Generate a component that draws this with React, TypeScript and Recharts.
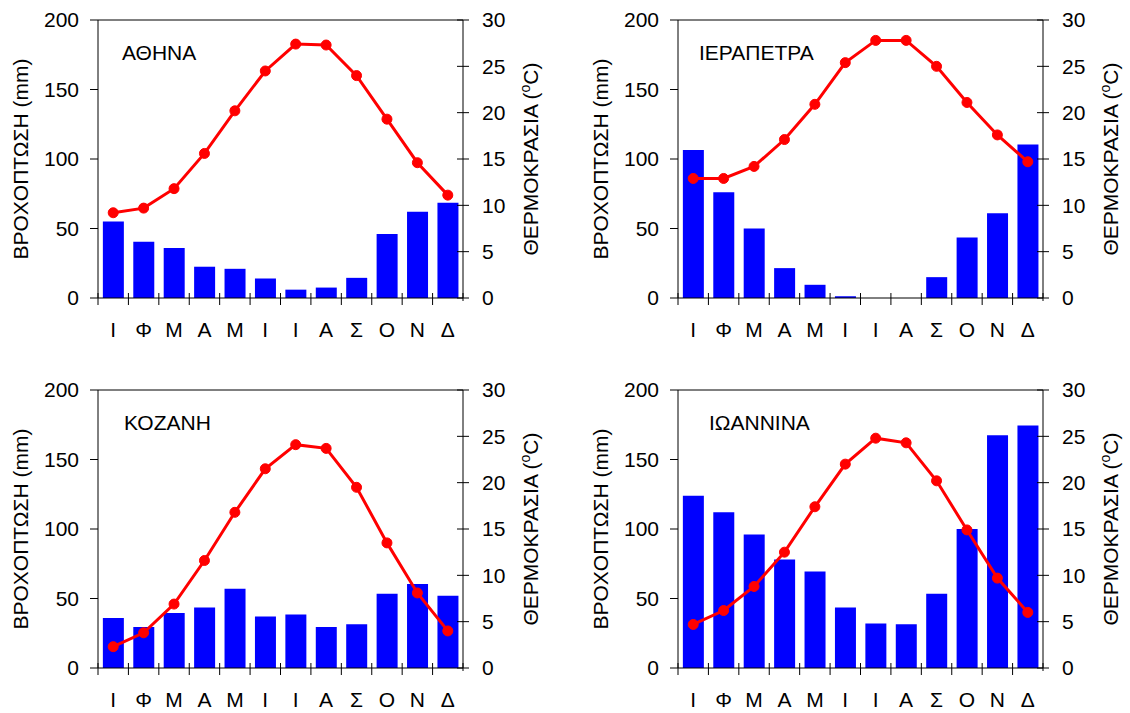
import React from 'react';
import { ComposedChart, Bar, Line, XAxis, YAxis, ReferenceLine } from 'recharts';

// Μήνες (αρχικά)
const MONTHS = ['Ι', 'Φ', 'Μ', 'Α', 'Μ', 'Ι', 'Ι', 'Α', 'Σ', 'Ο', 'Ν', 'Δ'];

const RAIN_TICKS = [0, 50, 100, 150, 200];
const TEMP_TICKS = [0, 5, 10, 15, 20, 25, 30];

// ΑΘΗΝΑ
const ATHINA_RAIN = [55, 40.5, 36, 22.5, 21, 14, 6, 7.5, 14.5, 46, 62, 68.5];
const ATHINA_TEMP = [9.2, 9.7, 11.8, 15.6, 20.2, 24.5, 27.4, 27.3, 24, 19.3, 14.6, 11.1];

// ΙΕΡΑΠΕΤΡΑ
const IERAPETRA_RAIN = [106.5, 76, 50, 21.5, 9.5, 1.2, 0, 0, 15, 43.5, 61, 110.5];
const IERAPETRA_TEMP = [12.9, 12.9, 14.2, 17.1, 20.9, 25.4, 27.8, 27.8, 25, 21.1, 17.6, 14.7];

// ΚΟΖΑΝΗ
const KOZANI_RAIN = [36, 29.5, 39.5, 43.5, 57, 37, 38.5, 29.5, 31.5, 53.5, 60.5, 52];
const KOZANI_TEMP = [2.3, 3.8, 6.9, 11.6, 16.8, 21.5, 24.1, 23.7, 19.5, 13.5, 8.1, 4];

// ΙΩΑΝΝΙΝΑ
const IOANNINA_RAIN = [124, 112, 96, 78, 69.5, 43.5, 32, 31.5, 53.5, 100, 167.5, 174.5];
const IOANNINA_TEMP = [4.7, 6.2, 8.8, 12.5, 17.4, 22, 24.8, 24.3, 20.2, 14.9, 9.7, 6];

const FONT = 'Arial, "Liberation Sans", sans-serif';
const FS = 21;
const PLOT_W = 365;
const LEFT_W = 98;
const BAND = PLOT_W / MONTHS.length;

function MonthTick(props: any) {
  const { x, y, payload, index } = props;
  const axisY = y - 24;
  const h = BAND / 2;
  return (
    <g>
      <line x1={x - h} x2={x - h} y1={axisY - 5} y2={axisY + 7} stroke="#000" />
      {index === MONTHS.length - 1 && (
        <line x1={x + h} x2={x + h} y1={axisY - 5} y2={axisY + 3} stroke="#000" />
      )}
      <text x={x} y={y} dy="0.71em" textAnchor="middle" fontSize={FS} fontFamily={FONT} fill="#000">
        {payload.value}
      </text>
    </g>
  );
}

function TempTick(props: any) {
  const { x, y, payload } = props;
  const ax = x - 19;
  return (
    <g>
      <line x1={ax - 6} x2={ax + 6} y1={y} y2={y} stroke="#000" />
      <text x={x} y={y} dy="0.355em" textAnchor="start" fontSize={FS} fontFamily={FONT} fill="#000">
        {payload.value}
      </text>
    </g>
  );
}

function RainLabel(props: any) {
  const vb = props.viewBox;
  const cx = vb.x + vb.width - 77;
  const cy = vb.y + vb.height / 2;
  return (
    <text x={cx} y={cy} dy="0.33em" transform={`rotate(-90 ${cx} ${cy})`} textAnchor="middle"
      fontSize={FS} fontFamily={FONT} fill="#000">
      ΒΡΟΧΟΠΤΩΣΗ (mm)
    </text>
  );
}

function TempLabel(props: any) {
  const vb = props.viewBox;
  const cx = vb.x + 68;
  const cy = vb.y + vb.height / 2;
  return (
    <text x={cx} y={cy} dy="0.33em" transform={`rotate(-90 ${cx} ${cy})`} textAnchor="middle"
      fontSize={FS} fontFamily={FONT} fill="#000">
      ΘΕΡΜΟΚΡΑΣΙΑ (<tspan fontSize={14} dy={-8}>o</tspan><tspan dy={8}>C)</tspan>
    </text>
  );
}

type PanelProps = {
  title: string;
  rain: number[];
  temp: number[];
  left: number;
  top: number;
  width: number;
  titleX: number;
  titleY: number;
};

function ClimatePanel({ title, rain, temp, left, top, width, titleX, titleY }: PanelProps) {
  const data = MONTHS.map((m, i) => ({ month: m, rain: rain[i], temp: temp[i] }));
  const rightW = width - LEFT_W - PLOT_W;
  return (
    <>
      <div style={{ position: 'absolute', left, top, width, height: 356 }}>
        <ComposedChart width={width} height={356} data={data} margin={{ top: 20, right: 0, left: 0, bottom: 18 }}
          barCategoryGap="16%">
          <XAxis dataKey="month" height={40} interval={0} allowDuplicatedCategory
            axisLine={{ stroke: '#000' }} tickLine={false} tickSize={7} tickMargin={17} tick={<MonthTick />} />
          <YAxis yAxisId="rain" orientation="left" width={LEFT_W} domain={[0, 200]} ticks={RAIN_TICKS} interval={0}
            axisLine={{ stroke: '#000' }} tickLine={{ stroke: '#000' }} tickSize={8} tickMargin={11}
            tick={{ fill: '#000', fontSize: FS, fontFamily: FONT }}
            label={(p: any) => <RainLabel {...p} />} />
          <YAxis yAxisId="temp" orientation="right" width={rightW} domain={[0, 30]} ticks={TEMP_TICKS} interval={0}
            axisLine={{ stroke: '#000' }} tickLine={false} tickSize={6} tickMargin={13} tick={<TempTick />}
            label={(p: any) => <TempLabel {...p} />} />
          <ReferenceLine yAxisId="rain" y={200} stroke="#000" />
          <Bar yAxisId="rain" dataKey="rain" fill="#0000ff" isAnimationActive={false} />
          <Line yAxisId="temp" type="linear" dataKey="temp" stroke="#ff0000" strokeWidth={3}
            dot={{ r: 5, fill: '#ff0000', stroke: '#ff0000', strokeWidth: 1 }} activeDot={false}
            isAnimationActive={false} />
        </ComposedChart>
      </div>
      <div style={{ position: 'absolute', left: titleX, top: titleY, fontFamily: FONT, fontSize: FS, lineHeight: '21px', color: '#000', whiteSpace: 'nowrap' }}>
        {title}
      </div>
    </>
  );
}

export default function App() {
  return (
    <div style={{ position: 'absolute', left: 0, top: 0, width: 1130, height: 713, background: '#fff', overflow: 'hidden' }}>
      <ClimatePanel title="ΑΘΗΝΑ" rain={ATHINA_RAIN} temp={ATHINA_TEMP} left={0} top={0} width={565} titleX={122} titleY={42} />
      <ClimatePanel title="ΙΕΡΑΠΕΤΡΑ" rain={IERAPETRA_RAIN} temp={IERAPETRA_TEMP} left={580} top={0} width={550} titleX={699} titleY={42} />
      <ClimatePanel title="ΚΟΖΑΝΗ" rain={KOZANI_RAIN} temp={KOZANI_TEMP} left={0} top={370} width={565} titleX={124} titleY={412} />
      <ClimatePanel title="ΙΩΑΝΝΙΝΑ" rain={IOANNINA_RAIN} temp={IOANNINA_TEMP} left={580} top={370} width={550} titleX={709} titleY={412} />
    </div>
  );
}
